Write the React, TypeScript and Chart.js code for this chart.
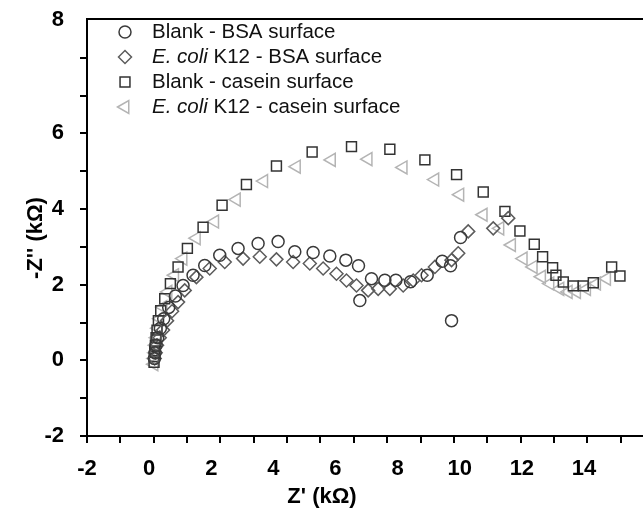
import React, { useEffect, useRef } from 'react';
import { Chart, registerables } from 'chart.js';

Chart.register(...registerables);

// ---------- data ----------
const seriesNames = ['Blank - BSA surface', 'E. coli K12 - BSA surface', 'Blank - casein surface', 'E. coli K12 - casein surface'];
const seriesItalic = ['', 'E. coli', '', 'E. coli'];

const blankBsaX = [0.02, 0.04, 0.07, 0.12, 0.2, 0.3, 0.45, 0.65, 0.88, 1.18, 1.53, 1.98, 2.53, 3.13, 3.73, 4.23, 4.78, 5.28, 5.76, 6.14, 6.18, 6.53, 6.93, 7.26, 7.7, 8.2, 8.65, 8.9, 8.93, 9.2];
const blankBsaY = [0.05, 0.2, 0.4, 0.6, 0.85, 1.1, 1.4, 1.7, 1.98, 2.25, 2.51, 2.78, 2.96, 3.09, 3.14, 2.87, 2.85, 2.76, 2.65, 2.5, 1.58, 2.16, 2.12, 2.12, 2.08, 2.25, 2.62, 2.5, 1.05, 3.25];

const ecoliBsaX = [0.03, 0.06, 0.1, 0.18, 0.28, 0.4, 0.55, 0.73, 0.93, 1.28, 1.68, 2.13, 2.68, 3.18, 3.68, 4.18, 4.68, 5.08, 5.48, 5.78, 6.08, 6.43, 6.73, 7.08, 7.48, 7.78, 8.03, 8.43, 8.93, 9.13, 9.43, 10.18, 10.63];
const ecoliBsaY = [0.05, 0.2, 0.4, 0.6, 0.8, 1.05, 1.3, 1.54, 1.85, 2.2, 2.43, 2.6, 2.69, 2.74, 2.67, 2.6, 2.56, 2.43, 2.29, 2.11, 1.98, 1.85, 1.89, 1.89, 1.98, 2.11, 2.25, 2.47, 2.65, 2.83, 3.41, 3.49, 3.76];

const blankCaseinX = [0.01, 0.02, 0.03, 0.05, 0.07, 0.1, 0.14, 0.21, 0.33, 0.5, 0.73, 1.01, 1.48, 2.05, 2.78, 3.68, 4.75, 5.93, 7.08, 8.13, 9.08, 9.88, 10.53, 10.98, 11.41, 11.66, 11.96, 12.06, 12.28, 12.58, 12.88, 13.18, 13.73, 13.98];
const blankCaseinY = [-0.05, 0.1, 0.25, 0.4, 0.6, 0.8, 1.05, 1.31, 1.63, 2.03, 2.47, 2.96, 3.52, 4.1, 4.65, 5.14, 5.51, 5.65, 5.58, 5.3, 4.91, 4.45, 3.94, 3.42, 3.07, 2.74, 2.45, 2.25, 2.07, 1.97, 1.97, 2.05, 2.47, 2.23];

const ecoliCaseinX = [0.01, 0.02, 0.04, 0.06, 0.09, 0.13, 0.19, 0.28, 0.43, 0.63, 0.88, 1.28, 1.83, 2.48, 3.3, 4.28, 5.33, 6.43, 7.48, 8.43, 9.18, 9.88, 10.38, 10.73, 11.08, 11.38, 11.63, 11.88, 12.18, 12.43, 12.68, 12.98, 13.28, 13.58];
const ecoliCaseinY = [-0.1, 0.05, 0.2, 0.4, 0.6, 0.85, 1.1, 1.41, 1.81, 2.25, 2.69, 3.23, 3.67, 4.25, 4.74, 5.12, 5.3, 5.32, 5.1, 4.78, 4.38, 3.85, 3.49, 3.05, 2.69, 2.47, 2.21, 2.03, 1.89, 1.81, 1.81, 1.89, 2.03, 2.16];

const xMarkValues = [-2, -1, 0, 1, 2, 3, 4, 5, 6, 7, 8, 9, 10, 11, 12, 13, 14];
const xTickValues = [-2, 0, 2, 4, 6, 8, 10, 12, 14];
const xTickLabels = ['-2', '0', '2', '4', '6', '8', '10', '12', '14'];
const yMarkValues = [-2, -1, 0, 1, 2, 3, 4, 5, 6, 7, 8];
const yTickValues = [-2, 0, 2, 4, 6, 9];
const yTickLabels = ['-2', '0', '2', '4', '6', '8'];

const xTitle = "Z' (k\u03A9)";
const yTitle = "-Z'' (k\u03A9)";

// ---------- styles ----------
const FONT = '"Liberation Sans", Arial, Helvetica, sans-serif';
const seriesStyles = [
  { pointStyle: 'circle', color: '#3a3a3a', radius: 6, rotation: 0 },
  { pointStyle: 'rectRot', color: '#5c5c5c', radius: 6.5, rotation: 0 },
  { pointStyle: 'rect', color: '#333333', radius: 7, rotation: 0 },
  { pointStyle: 'triangle', color: '#b4b4b4', radius: 7.5, rotation: -90 },
];

const zip = (xs: number[], ys: number[]) => xs.map((x, i) => ({ x, y: ys[i] }));
const seriesData = [
  zip(blankBsaX, blankBsaY),
  zip(ecoliBsaX, ecoliBsaY),
  zip(blankCaseinX, blankCaseinY),
  zip(ecoliCaseinX, ecoliCaseinY),
];

function drawMarker(ctx: CanvasRenderingContext2D, style: string, r: number, x: number, y: number) {
  ctx.beginPath();
  if (style === 'circle') {
    ctx.arc(x, y, r, 0, Math.PI * 2);
  } else if (style === 'rectRot') {
    ctx.moveTo(x - r, y); ctx.lineTo(x, y - r); ctx.lineTo(x + r, y); ctx.lineTo(x, y + r); ctx.closePath();
  } else if (style === 'rect') {
    const s = r * Math.SQRT1_2;
    ctx.rect(x - s, y - s, 2 * s, 2 * s);
  } else if (style === 'triangle') {
    for (let k = 0; k < 3; k++) {
      const a = Math.PI + (k * 2 * Math.PI) / 3;
      const px = x + Math.cos(a) * r;
      const py = y + Math.sin(a) * r;
      if (k === 0) ctx.moveTo(px, py); else ctx.lineTo(px, py);
    }
    ctx.closePath();
  }
  ctx.stroke();
}

const overlayPlugin = {
  id: 'overlay',
  afterDraw(chart: any) {
    const ctx = chart.ctx as CanvasRenderingContext2D;
    ctx.save();
    ctx.fillStyle = '#000';
    ctx.font = `bold 22px ${FONT}`;
    ctx.textAlign = 'center';
    ctx.textBaseline = 'middle';
    ctx.fillText(xTitle, 322, 497);
    ctx.save();
    ctx.translate(36, 238);
    ctx.rotate(-Math.PI / 2);
    ctx.fillText(yTitle, 0, 0);
    ctx.restore();

    // legend
    const x0 = 125;
    const tx = 152;
    const y0 = 32;
    const dy = 25;
    ctx.textAlign = 'left';
    ctx.textBaseline = 'middle';
    seriesNames.forEach((name, i) => {
      const st = seriesStyles[i];
      const y = y0 + i * dy;
      ctx.strokeStyle = st.color;
      ctx.lineWidth = 1.5;
      drawMarker(ctx, st.pointStyle, st.radius, x0, y);
      ctx.fillStyle = '#111';
      let x = tx;
      const it = seriesItalic[i];
      let rest = name;
      if (it && name.startsWith(it)) {
        ctx.font = `italic 20.5px ${FONT}`;
        ctx.fillText(it, x, y);
        x += ctx.measureText(it).width;
        rest = name.slice(it.length);
      }
      ctx.font = `20.5px ${FONT}`;
      ctx.fillText(rest, x, y);
    });
    ctx.restore();
  },
};

export default function App() {
  const ref = useRef<HTMLCanvasElement | null>(null);
  useEffect(() => {
    document.body.style.margin = '0';
    const canvas = ref.current!;
    const chart = new Chart(canvas, {
      type: 'scatter',
      data: {
        datasets: seriesData.map((d, i) => ({
          label: seriesNames[i],
          data: d,
          pointStyle: seriesStyles[i].pointStyle as any,
          pointRotation: seriesStyles[i].rotation,
          pointRadius: seriesStyles[i].radius,
          pointBorderWidth: 1.5,
          borderColor: seriesStyles[i].color,
          backgroundColor: 'rgba(0,0,0,0)',
          showLine: false,
        })),
      },
      options: {
        animation: false,
        responsive: false,
        devicePixelRatio: 1,
        layout: { autoPadding: false, padding: { top: 19, right: 0, left: 0, bottom: 0 } },
        plugins: { legend: { display: false }, tooltip: { enabled: false } },
        scales: {
          x: {
            type: 'linear',
            position: 'bottom',
            weight: 0,
            min: -2,
            max: 14.67,
            afterBuildTicks: (s: any) => { s.ticks = xMarkValues.map((v) => ({ value: v })); },
            afterFit: (s: any) => { s.height = 9; },
            grid: { display: true, drawOnChartArea: false, drawTicks: true, tickLength: 7, color: '#000', lineWidth: 2 },
            border: { display: true, color: '#000', width: 2 },
            ticks: { display: false },
          },
          xl: {
            type: 'linear',
            position: 'bottom',
            weight: 1,
            min: -2,
            max: 15.9,
            afterBuildTicks: (s: any) => { s.ticks = xTickValues.map((v) => ({ value: v })); },
            afterFit: (s: any) => { s.height = 79; },
            grid: { display: false },
            border: { display: false },
            ticks: {
              padding: 3,
              color: '#000',
              font: { family: FONT, size: 22, weight: 'bold' },
              callback: (v: any) => { const i = xTickValues.indexOf(Number(v)); return i >= 0 ? xTickLabels[i] : ''; },
            },
          },
          xTop: {
            type: 'linear',
            position: 'top',
            min: -2,
            max: 14.67,
            afterFit: (s: any) => { s.height = 0; },
            grid: { display: false },
            border: { display: true, color: '#000', width: 2 },
            ticks: { display: false },
          },
          y: {
            type: 'linear',
            position: 'left',
            weight: 0,
            min: -2,
            max: 9.02,
            afterFit: (s: any) => { s.width = 9; },
            afterBuildTicks: (s: any) => { s.ticks = yMarkValues.map((v) => ({ value: v })); },
            grid: { display: true, drawOnChartArea: false, drawTicks: true, tickLength: 7, color: '#000', lineWidth: 2 },
            border: { display: true, color: '#000', width: 2 },
            ticks: { display: false },
          },
          yl: {
            type: 'linear',
            position: 'left',
            weight: 1,
            min: -2,
            max: 9.02,
            afterFit: (s: any) => { s.width = 78; },
            afterBuildTicks: (s: any) => { s.ticks = yTickValues.map((v) => ({ value: v })); },
            grid: { display: false },
            border: { display: false },
            ticks: {
              padding: 6,
              color: '#000',
              font: { family: FONT, size: 22, weight: 'bold' },
              callback: (v: any) => { const i = yTickValues.indexOf(Number(v)); return i >= 0 ? yTickLabels[i] : ''; },
            },
          },
        },
      },
      plugins: [overlayPlugin],
    });
    return () => chart.destroy();
  }, []);
  return <canvas ref={ref} width={643} height={524} style={{ display: 'block' }} />;
}
